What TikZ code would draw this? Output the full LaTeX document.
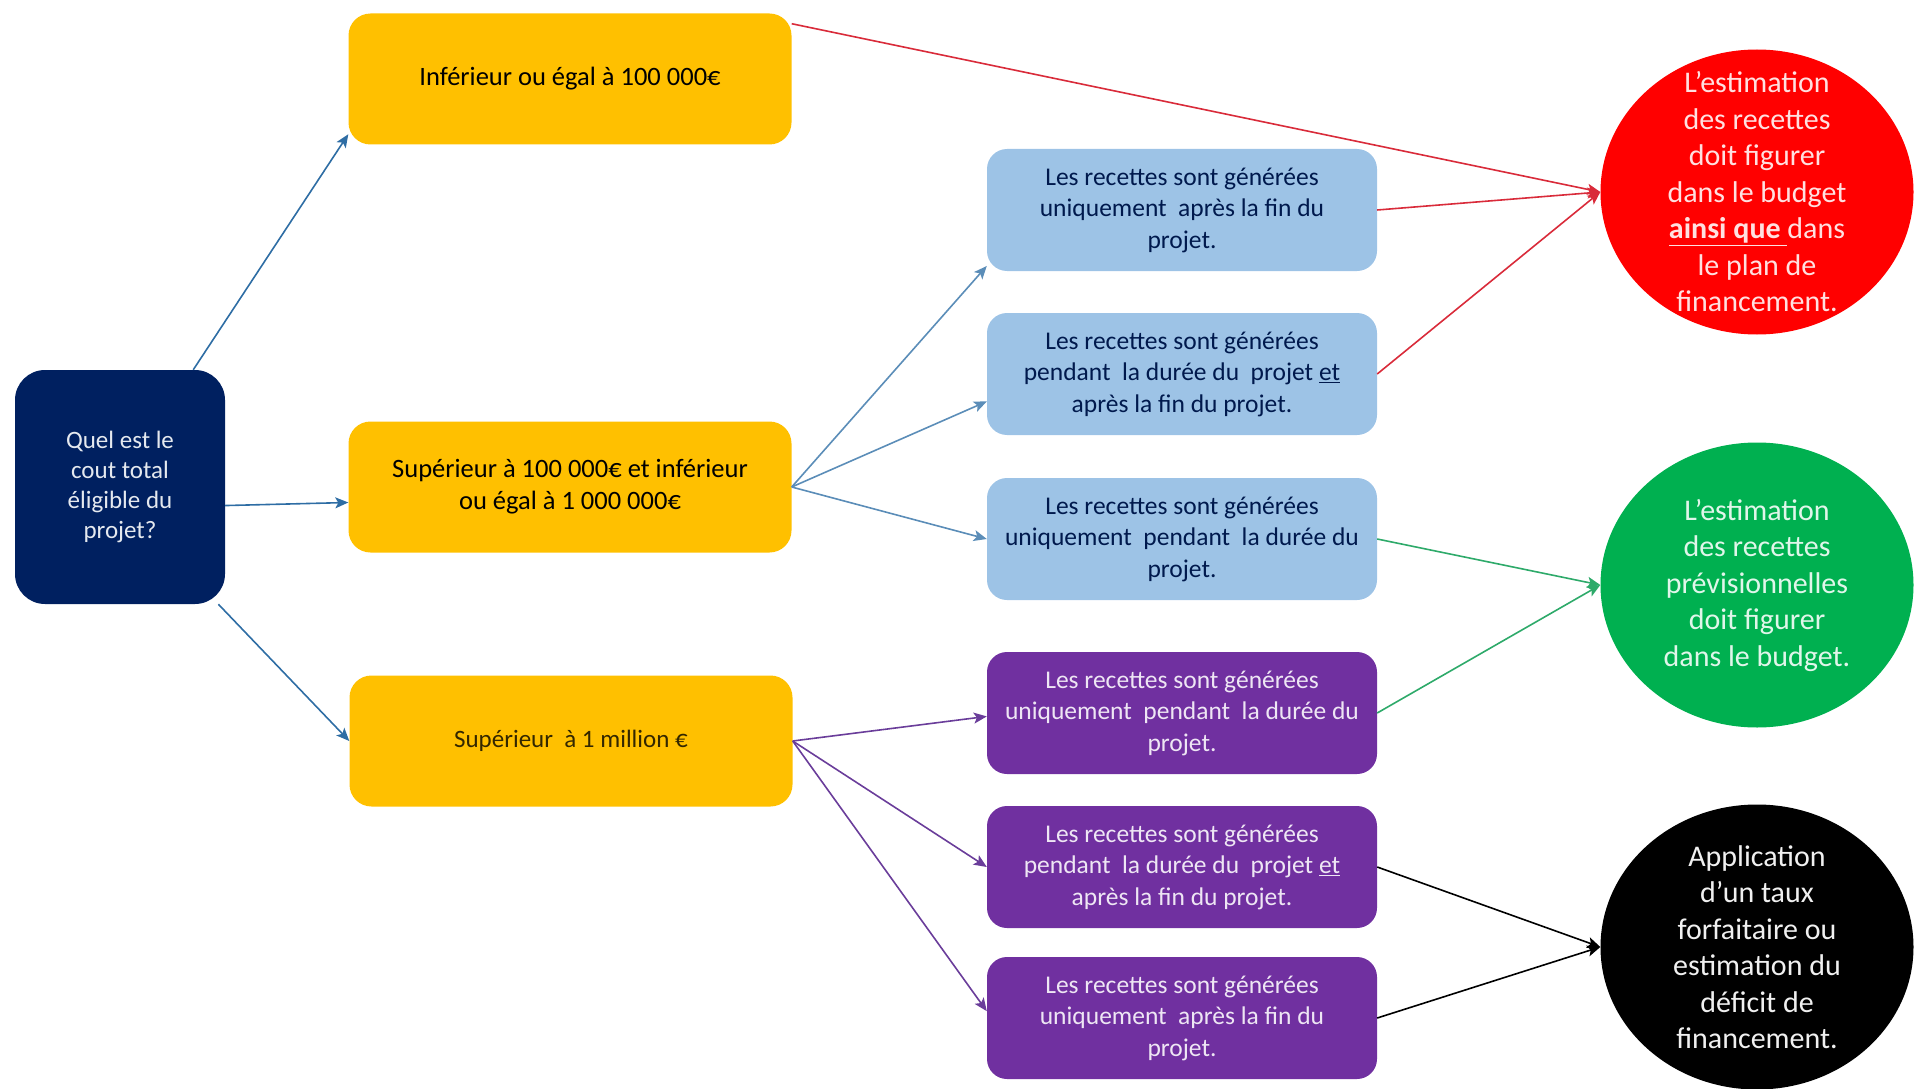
\documentclass[tikz,border=0pt]{standalone}
\usepackage{fontspec}
\setmainfont{Carlito}
\usepackage{tikz}
\usetikzlibrary{arrows.meta,shapes.geometric,calc}
\definecolor{navy}{HTML}{002060}
\definecolor{gold}{HTML}{FFC000}
\definecolor{skyblue}{HTML}{9DC3E6}
\definecolor{violet}{HTML}{7030A0}
\definecolor{grass}{HTML}{00B050}
\definecolor{redline}{HTML}{D92B3A}
\definecolor{skyline}{HTML}{5B8DB8}
\definecolor{navyline}{HTML}{2E6DA4}
\definecolor{violetline}{HTML}{6A3D9A}
\definecolor{grassline}{HTML}{2EAA6A}
\tikzstyle{edge}   =[-{Stealth[length=13pt,width=11pt,inset=3pt]},
                     line width=1.6pt]
\tikzstyle{question}=[rectangle, rounded corners=30pt, fill=navy,
                     minimum width=210pt, minimum height=234pt,
                     inner sep=0pt, align=center, text=white!90!navy,
                     font=\fontsize{25}{30}\selectfont]
\tikzstyle{choice} =[rectangle, rounded corners=22pt, fill=gold,
                     minimum width=443pt, minimum height=131pt,
                     inner sep=0pt, align=center,
                     font=\fontsize{26.5}{32}\selectfont]
\tikzstyle{case}   =[rectangle, rounded corners=20pt,
                     minimum width=390pt, minimum height=122pt,
                     inner sep=0pt, align=center,
                     font=\fontsize{25.5}{31.5}\selectfont]
\tikzstyle{outcome}=[ellipse, minimum width=313pt, minimum height=285pt,
                     inner sep=-30pt, align=center,
                     font=\fontsize{30}{36.5}\selectfont]
\begin{document}
\begin{tikzpicture}[x=1pt, y=-1pt]
        \useasboundingbox (0,0) rectangle (1915,1089);

        % question and cost ranges
        \node[question] (q) at (120,487) {Quel est le\\cout total\\éligible du\\projet?};
        \node[choice] (y1) at (570,79) {Inférieur ou égal à 100 000€};
        \node[choice] (y2) at (570,487) {Supérieur à 100 000€ et inférieur\\ou égal à 1 000 000€};
        \node[choice, text=black!80!gold, font=\fontsize{25}{30}\selectfont] (y3) at (571,741) {Supérieur~ à 1 million €};

        % revenue cases
        \node[case, fill=skyblue, text=navy!80!black] (b1) at (1182,210)
            {Les recettes sont générées\\uniquement~ après la fin du\\projet.};
        \node[case, fill=skyblue, text=navy!80!black] (b2) at (1182,374)
            {Les recettes sont générées\\pendant~ la durée du~ projet \underline{et}\\après la fin du projet.};
        \node[case, fill=skyblue, text=navy!80!black] (b3) at (1182,539)
            {Les recettes sont générées\\uniquement~ pendant~ la durée du\\projet.};
        \node[case, fill=violet, text=white!88!violet] (p4) at (1182,713)
            {Les recettes sont générées\\uniquement~ pendant~ la durée du\\projet.};
        \node[case, fill=violet, text=white!88!violet] (p5) at (1182,867)
            {Les recettes sont générées\\pendant~ la durée du~ projet \underline{et}\\après la fin du projet.};
        \node[case, fill=violet, text=white!88!violet] (p6) at (1182,1018)
            {Les recettes sont générées\\uniquement~ après la fin du\\projet.};

        % outcomes
        \node[outcome, fill=red, text=white!88!red] (red) at (1757,192)
            {L’estimation\\des recettes\\doit figurer\\dans le budget\\\underline{\textbf{ainsi que}\ }dans\\le plan de\\financement.};
        \node[outcome, fill=grass, text=white!88!grass] (green) at (1757,585)
            {L’estimation\\des recettes\\prévisionnelles\\doit figurer\\dans le budget.};
        \node[outcome, fill=black, text=white!94!black] (black) at (1757,947)
            {Application\\d’un taux\\forfaitaire ou\\estimation du\\déficit de\\financement.};

        \draw[edge, navyline] (q.58) -- (y1.194);
        \draw[edge, navyline] (q.-10) -- (y2.184);
        \draw[edge, navyline] (q.-50) -- (y3.west);

        \draw[edge, skyline] (y2.east) -- (b1.196);
        \draw[edge, skyline] (y2.east) -- (b2.188);
        \draw[edge, skyline] (y2.east) -- (b3.west);

        \draw[edge, violetline] (y3.east) -- (p4.181);
        \draw[edge, violetline] (y3.east) -- (p5.west);
        \draw[edge, violetline] (y3.east) -- (p6.178);

        \draw[edge, redline] (y1.14) -- (red.west);
        \draw[edge, redline] (b1.east) -- (red.west);
        \draw[edge, redline] (b2.east) -- (red.west);
        \draw[edge, grassline] (b3.east) -- (green.west);
        \draw[edge, grassline] (p4.east) -- (green.west);
        \draw[edge, black] (p5.east) -- (black.west);
        \draw[edge, black] (p6.east) -- (black.west);
\end{tikzpicture}
\end{document}
